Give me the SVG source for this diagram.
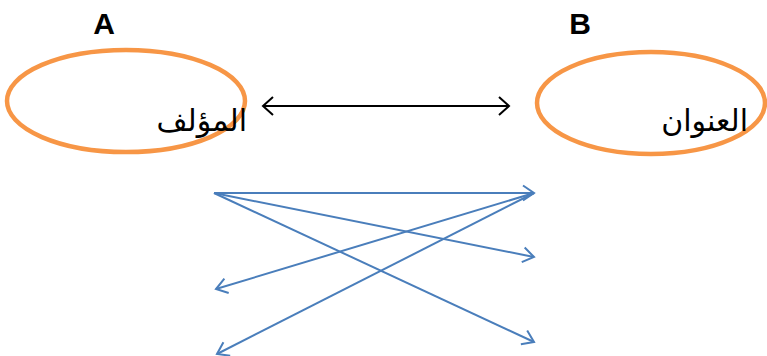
<svg xmlns="http://www.w3.org/2000/svg" width="767" height="356" viewBox="0 0 767 356">
<style>
.ell{fill:none;stroke:#F79646;stroke-width:4.5}
.lbl{font-family:"Liberation Sans",Arial,sans-serif;font-weight:bold;font-size:30px;fill:#000;text-anchor:middle}
.ar{font-family:"DejaVu Sans","Noto Sans",sans-serif;font-size:30px;fill:#000;text-anchor:end}
.blk{stroke:#000;stroke-width:2;fill:none}
.blu{stroke:#4A7EBB;stroke-width:2;fill:none}
</style>
<defs>
<marker id="mb" markerUnits="userSpaceOnUse" markerWidth="24" markerHeight="24" refX="12" refY="12" orient="auto-start-reverse" viewBox="0 0 24 24">
<path d="M2,3 L12,12 L2,21" fill="none" stroke="#000" stroke-width="2"/>
</marker>
<marker id="mu" markerUnits="userSpaceOnUse" markerWidth="24" markerHeight="24" refX="12" refY="12" orient="auto" viewBox="0 0 24 24">
<path d="M1,4.5 L12,12 L1,19.5" fill="none" stroke="#4A7EBB" stroke-width="2"/>
</marker>
</defs>
<g id="nodeA">
<text class="lbl" x="104" y="34">A</text>
<ellipse class="ell" cx="126" cy="101" rx="119" ry="51"/>
<text class="ar" x="247" y="131">المؤلف</text>
</g>
<g id="nodeB">
<text class="lbl" x="580" y="34">B</text>
<ellipse class="ell" cx="651" cy="103" rx="114" ry="51"/>
<text class="ar" x="748" y="131">العنوان</text>
</g>
<g id="connectors">
<line class="blk" x1="263" y1="106" x2="509" y2="106" marker-start="url(#mb)" marker-end="url(#mb)"/>
<line class="blu" x1="214" y1="193" x2="534" y2="193" marker-end="url(#mu)"/>
<line class="blu" x1="214" y1="193" x2="534" y2="257" marker-end="url(#mu)"/>
<line class="blu" x1="214" y1="193" x2="534" y2="342" marker-end="url(#mu)"/>
<line class="blu" x1="534" y1="193" x2="216" y2="289" marker-end="url(#mu)"/>
<line class="blu" x1="534" y1="193" x2="217" y2="354" marker-end="url(#mu)"/>
</g>
</svg>
